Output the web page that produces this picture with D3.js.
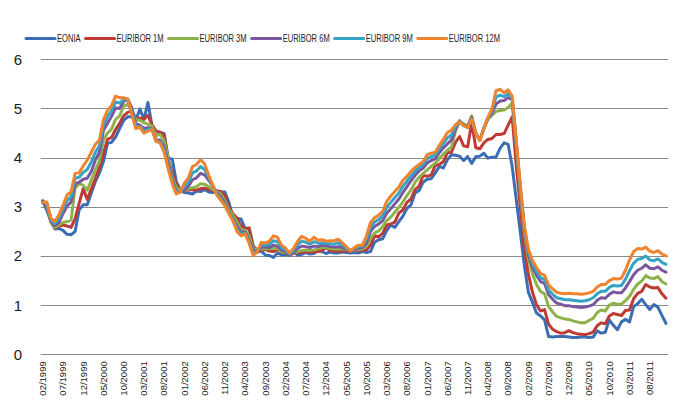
<!doctype html>
<html lang="en">

<head>
  <meta charset="UTF-8">
  <title>EONIA / EURIBOR</title>
  <style type="text/css">
    body { margin: 0; background: #fff; }
    text { font-family: "Liberation Sans", Arial, sans-serif; }
  </style>
  <script src="https://cdnjs.cloudflare.com/ajax/libs/d3/7.8.5/d3.min.js"></script>
</head>

<body>
  <div id="container"></div>
  <script>
    // monthly averages, 02/1999 .. 12/2011
    var seriesNames = ['EONIA', 'EURIBOR 1M', 'EURIBOR 3M', 'EURIBOR 6M', 'EURIBOR 9M', 'EURIBOR 12M'];
    var colors = ['#3A6DB3', '#BE3A35', '#8DB24A', '#7A56A0', '#34A3C4', '#F0832E'];

    var eonia = [
      3.12, 2.93, 2.71, 2.55, 2.56, 2.52, 2.44, 2.43, 2.50, 2.94, 3.04,
      3.04, 3.28, 3.51, 3.69, 3.92, 4.29, 4.31, 4.42, 4.59, 4.76, 4.83, 4.83,
      4.76, 4.99, 4.78, 5.12, 4.65, 4.54, 4.51, 4.49, 3.99, 3.97, 3.51, 3.34,
      3.29, 3.28, 3.26, 3.32, 3.31, 3.35, 3.30, 3.29, 3.32, 3.30, 3.30, 3.09,
      2.79, 2.76, 2.75, 2.56, 2.56, 2.21, 2.08, 2.10, 2.02, 2.01, 1.97, 2.06,
      2.02, 2.03, 2.01, 2.08, 2.02, 2.03, 2.07, 2.04, 2.05, 2.11, 2.09, 2.05,
      2.08, 2.06, 2.06, 2.08, 2.07, 2.06, 2.07, 2.06, 2.09, 2.07, 2.09, 2.28,
      2.33, 2.35, 2.52, 2.63, 2.58, 2.70, 2.81, 2.97, 3.04, 3.28, 3.33, 3.50,
      3.56, 3.57, 3.69, 3.82, 3.79, 3.96, 4.06, 4.05, 4.03, 3.94, 4.02, 3.88,
      4.02, 4.03, 4.09, 3.99, 4.01, 4.01, 4.19, 4.30, 4.27, 3.82, 3.15, 2.49,
      1.81, 1.26, 1.06, 0.84, 0.78, 0.70, 0.36, 0.35, 0.36, 0.36, 0.36, 0.35,
      0.34, 0.34, 0.35, 0.35, 0.34, 0.35, 0.48, 0.43, 0.45, 0.70, 0.59, 0.50,
      0.66, 0.71, 0.66, 0.97, 1.03, 1.12, 1.01, 0.91, 1.01, 0.96, 0.79, 0.63
    ];
    var euribor1m = [
      3.12, 3.05, 2.69, 2.57, 2.61, 2.63, 2.61, 2.58, 2.76, 3.07, 3.37,
      3.15, 3.36, 3.57, 3.81, 4.09, 4.37, 4.41, 4.57, 4.70, 4.85, 4.92, 4.95,
      4.80, 4.80, 4.78, 4.86, 4.67, 4.53, 4.52, 4.45, 3.98, 3.68, 3.45, 3.34,
      3.35, 3.34, 3.35, 3.34, 3.37, 3.38, 3.36, 3.33, 3.32, 3.31, 3.23, 2.99,
      2.86, 2.77, 2.60, 2.56, 2.57, 2.18, 2.13, 2.12, 2.13, 2.10, 2.09, 2.13,
      2.08, 2.06, 2.04, 2.05, 2.06, 2.08, 2.08, 2.08, 2.08, 2.09, 2.11, 2.17,
      2.11, 2.10, 2.10, 2.10, 2.10, 2.10, 2.11, 2.11, 2.12, 2.12, 2.22, 2.41,
      2.39, 2.46, 2.63, 2.65, 2.69, 2.87, 2.94, 3.09, 3.16, 3.35, 3.42, 3.64,
      3.62, 3.65, 3.84, 3.86, 3.92, 4.10, 4.11, 4.31, 4.43, 4.24, 4.22, 4.71,
      4.20, 4.18, 4.30, 4.37, 4.39, 4.47, 4.47, 4.49, 4.66, 4.83, 3.84, 2.99,
      2.14, 1.63, 1.27, 1.01, 0.88, 0.91, 0.61, 0.51, 0.46, 0.43, 0.44, 0.48,
      0.44, 0.42, 0.41, 0.40, 0.42, 0.45, 0.58, 0.64, 0.62, 0.78, 0.83, 0.81,
      0.79, 0.89, 0.90, 1.13, 1.24, 1.28, 1.42, 1.37, 1.35, 1.36, 1.23, 1.14
    ];
    var euribor3m = [
      3.09, 3.05, 2.70, 2.58, 2.63, 2.68, 2.70, 2.73, 3.38, 3.47, 3.44,
      3.34, 3.54, 3.75, 3.93, 4.36, 4.50, 4.58, 4.78, 4.85, 5.04, 5.09, 4.94,
      4.77, 4.76, 4.71, 4.68, 4.64, 4.45, 4.47, 4.35, 3.98, 3.60, 3.39, 3.34,
      3.34, 3.36, 3.39, 3.41, 3.47, 3.46, 3.41, 3.35, 3.31, 3.26, 3.12, 2.94,
      2.83, 2.69, 2.53, 2.53, 2.40, 2.15, 2.13, 2.14, 2.15, 2.14, 2.16, 2.15,
      2.09, 2.07, 2.03, 2.05, 2.09, 2.11, 2.12, 2.11, 2.12, 2.15, 2.17, 2.17,
      2.15, 2.14, 2.14, 2.14, 2.13, 2.11, 2.12, 2.13, 2.14, 2.20, 2.36, 2.47,
      2.51, 2.60, 2.72, 2.79, 2.89, 2.99, 3.10, 3.23, 3.34, 3.50, 3.60, 3.68,
      3.75, 3.82, 3.89, 3.98, 4.07, 4.15, 4.22, 4.54, 4.74, 4.69, 4.64, 4.85,
      4.48, 4.36, 4.60, 4.78, 4.86, 4.94, 4.96, 4.97, 5.02, 5.11, 4.24, 3.29,
      2.46, 1.94, 1.64, 1.42, 1.28, 1.23, 0.97, 0.86, 0.77, 0.74, 0.72, 0.71,
      0.68, 0.66, 0.64, 0.64, 0.69, 0.73, 0.85, 0.90, 0.88, 1.00, 1.04, 1.02,
      1.02, 1.09, 1.18, 1.32, 1.43, 1.49, 1.60, 1.55, 1.54, 1.58, 1.48, 1.43
    ];
    var euribor6m = [
      3.08, 3.05, 2.72, 2.62, 2.68, 2.86, 3.01, 3.10, 3.46, 3.50, 3.56,
      3.58, 3.72, 3.95, 4.11, 4.55, 4.70, 4.84, 5.01, 5.00, 5.14, 5.19, 5.01,
      4.69, 4.66, 4.60, 4.61, 4.58, 4.36, 4.36, 4.22, 3.89, 3.55, 3.31, 3.30,
      3.34, 3.42, 3.55, 3.59, 3.68, 3.65, 3.54, 3.42, 3.29, 3.20, 3.06, 2.89,
      2.76, 2.60, 2.48, 2.49, 2.32, 2.11, 2.10, 2.18, 2.18, 2.17, 2.22, 2.20,
      2.12, 2.09, 2.02, 2.06, 2.16, 2.20, 2.19, 2.17, 2.20, 2.19, 2.22, 2.21,
      2.19, 2.18, 2.19, 2.17, 2.14, 2.11, 2.13, 2.16, 2.17, 2.27, 2.50, 2.60,
      2.65, 2.72, 2.87, 2.96, 3.06, 3.16, 3.29, 3.41, 3.53, 3.64, 3.73, 3.79,
      3.89, 3.94, 3.98, 4.10, 4.20, 4.28, 4.36, 4.59, 4.75, 4.66, 4.63, 4.82,
      4.50, 4.36, 4.59, 4.80, 4.90, 5.09, 5.15, 5.16, 5.22, 5.18, 4.31, 3.37,
      2.54, 2.03, 1.77, 1.61, 1.48, 1.44, 1.21, 1.12, 1.04, 1.02, 0.99, 0.99,
      0.97, 0.96, 0.95, 0.96, 0.98, 1.01, 1.10, 1.15, 1.14, 1.22, 1.27, 1.25,
      1.25, 1.35, 1.48, 1.62, 1.71, 1.75, 1.82, 1.75, 1.74, 1.78, 1.71, 1.67
    ];
    var euribor9m = [
      3.08, 3.07, 2.74, 2.66, 2.76, 2.95, 3.13, 3.20, 3.58, 3.60, 3.70,
      3.76, 3.91, 4.11, 4.24, 4.66, 4.84, 4.95, 5.13, 5.11, 5.18, 5.19, 4.94,
      4.63, 4.64, 4.55, 4.57, 4.57, 4.34, 4.33, 4.16, 3.83, 3.51, 3.28, 3.30,
      3.41, 3.50, 3.69, 3.73, 3.82, 3.76, 3.59, 3.43, 3.26, 3.16, 3.04, 2.88,
      2.73, 2.55, 2.44, 2.47, 2.29, 2.06, 2.09, 2.23, 2.22, 2.23, 2.31, 2.29,
      2.17, 2.12, 2.04, 2.11, 2.23, 2.30, 2.28, 2.24, 2.29, 2.26, 2.27, 2.25,
      2.25, 2.24, 2.27, 2.22, 2.16, 2.11, 2.15, 2.19, 2.20, 2.34, 2.59, 2.69,
      2.74, 2.82, 2.99, 3.09, 3.19, 3.28, 3.42, 3.52, 3.63, 3.72, 3.80, 3.86,
      3.98, 4.02, 4.05, 4.18, 4.29, 4.40, 4.46, 4.63, 4.74, 4.65, 4.62, 4.80,
      4.50, 4.35, 4.59, 4.81, 4.95, 5.23, 5.27, 5.24, 5.30, 5.22, 4.33, 3.41,
      2.58, 2.09, 1.84, 1.69, 1.56, 1.52, 1.31, 1.22, 1.15, 1.13, 1.11, 1.11,
      1.10, 1.09, 1.08, 1.09, 1.11, 1.15, 1.23, 1.28, 1.28, 1.36, 1.40, 1.39,
      1.40, 1.53, 1.70, 1.85, 1.93, 1.95, 2.00, 1.92, 1.90, 1.94, 1.87, 1.83
    ];
    var euribor12m = [
      3.09, 3.10, 2.77, 2.70, 2.84, 3.03, 3.24, 3.30, 3.68, 3.69, 3.83,
      3.95, 4.11, 4.27, 4.36, 4.77, 4.96, 5.06, 5.25, 5.22, 5.22, 5.19, 4.88,
      4.59, 4.62, 4.50, 4.54, 4.57, 4.33, 4.30, 4.11, 3.77, 3.47, 3.26, 3.30,
      3.48, 3.59, 3.82, 3.86, 3.96, 3.87, 3.64, 3.44, 3.24, 3.13, 3.02, 2.87,
      2.71, 2.50, 2.41, 2.45, 2.26, 2.01, 2.08, 2.28, 2.26, 2.30, 2.41, 2.38,
      2.22, 2.16, 2.06, 2.16, 2.30, 2.40, 2.36, 2.30, 2.38, 2.32, 2.33, 2.30,
      2.31, 2.31, 2.34, 2.27, 2.19, 2.10, 2.17, 2.22, 2.22, 2.41, 2.68, 2.78,
      2.83, 2.91, 3.11, 3.22, 3.31, 3.40, 3.54, 3.62, 3.72, 3.80, 3.86, 3.92,
      4.06, 4.09, 4.11, 4.25, 4.37, 4.51, 4.56, 4.67, 4.73, 4.65, 4.61, 4.79,
      4.50, 4.35, 4.59, 4.82, 4.99, 5.36, 5.39, 5.32, 5.38, 5.25, 4.35, 3.45,
      2.62, 2.14, 1.91, 1.77, 1.64, 1.61, 1.41, 1.33, 1.26, 1.24, 1.23, 1.24,
      1.23, 1.23, 1.22, 1.23, 1.25, 1.28, 1.37, 1.42, 1.42, 1.50, 1.54, 1.53,
      1.55, 1.71, 1.92, 2.09, 2.15, 2.14, 2.18, 2.10, 2.07, 2.11, 2.04, 2.00
    ];
    var tickLabels = ['02/1999', '07/1999', '12/1999', '05/2000', '10/2000', '03/2001', '08/2001',
      '01/2002', '06/2002', '11/2002', '04/2003', '09/2003', '02/2004', '07/2004', '12/2004',
      '05/2005', '10/2005', '03/2006', '08/2006', '01/2007', '06/2007', '11/2007', '04/2008',
      '09/2008', '02/2009', '07/2009', '12/2009', '05/2010', '10/2010', '03/2011', '08/2011'];
    var yTicks = [0, 1, 2, 3, 4, 5, 6];

    var allSeries = [eonia, euribor1m, euribor3m, euribor6m, euribor9m, euribor12m];

    // month categories 02/1999 .. 12/2011
    var months = [];
    for (var i = 0; i < eonia.length; i++) {
      var m = (1 + i) % 12 + 1, yr = 1999 + Math.floor((1 + i) / 12);
      months.push((m < 10 ? '0' : '') + m + '/' + yr);
    }

    var width = 690,
      height = 414,
      margin = { left: 40.7, top: 59.3, right: 22, bottom: 59.7 };

    var svg = d3.select('#container').append('svg').attr('width', width).attr('height', height);

    var x = d3.scaleBand()
      .domain(months)
      .range([margin.left, width - margin.right]);
    var y = d3.scaleLinear()
      .domain([0, 6])
      .range([height - margin.bottom, margin.top]);
    var cx = function (d) { return x(d) + x.bandwidth() / 2; };

    // gridlines
    svg.append('g')
      .selectAll('line')
      .data(yTicks)
      .enter().append('line')
      .attr('x1', margin.left).attr('x2', width - margin.right)
      .attr('y1', function (d) { return Math.round(y(d)) + 0.5; })
      .attr('y2', function (d) { return Math.round(y(d)) + 0.5; })
      .attr('stroke', '#8a8a8a')
      .attr('stroke-width', 1);

    // y labels
    svg.append('g')
      .selectAll('text')
      .data(yTicks)
      .enter().append('text')
      .attr('x', 22)
      .attr('y', function (d) { return y(d); })
      .attr('dy', '0.36em')
      .attr('text-anchor', 'end')
      .attr('font-size', 15)
      .attr('fill', '#1a1a1a')
      .text(function (d) { return d; });

    // x axis labels
    var xAxis = d3.axisBottom(x).tickValues(tickLabels).tickSize(0).tickPadding(0);
    var gx = svg.append('g')
      .attr('transform', 'translate(0,' + (height - margin.bottom) + ')')
      .call(xAxis);
    gx.select('.domain').remove();
    gx.selectAll('text')
      .attr('transform', 'rotate(-90)')
      .attr('x', -7)
      .attr('y', 0)
      .attr('dy', '0.35em')
      .attr('text-anchor', 'end')
      .attr('font-size', 9.5)
      .attr('font-family', '"Liberation Sans", Arial, sans-serif')
      .attr('fill', '#222');

    // lines
    var line = d3.line()
      .x(function (d, i) { return cx(months[i]); })
      .y(function (d) { return y(d); });

    svg.append('g')
      .selectAll('path')
      .data(allSeries)
      .enter().append('path')
      .attr('d', line)
      .attr('fill', 'none')
      .attr('stroke', function (d, i) { return colors[i]; })
      .attr('stroke-width', 3)
      .attr('stroke-linejoin', 'round')
      .attr('stroke-linecap', 'round');

    // legend
    var legend = svg.append('g').attr('transform', 'translate(26,38.5)');
    var lx = 0;
    seriesNames.forEach(function (name, i) {
      legend.append('line')
        .attr('x1', lx).attr('x2', lx + 29)
        .attr('y1', 0).attr('y2', 0)
        .attr('stroke', colors[i])
        .attr('stroke-width', 3)
        .attr('stroke-linecap', 'round');
      var t = legend.append('text')
        .attr('x', lx + 31)
        .attr('y', 0)
        .attr('dy', '0.36em')
        .attr('font-size', 10.5)
        .attr('fill', '#222')
        .text(name);
      var w = t.node().getComputedTextLength() * 0.72;
      t.attr('textLength', w).attr('lengthAdjust', 'spacingAndGlyphs');
      lx += 31 + w + 5;
    });
  </script>
</body>

</html>
